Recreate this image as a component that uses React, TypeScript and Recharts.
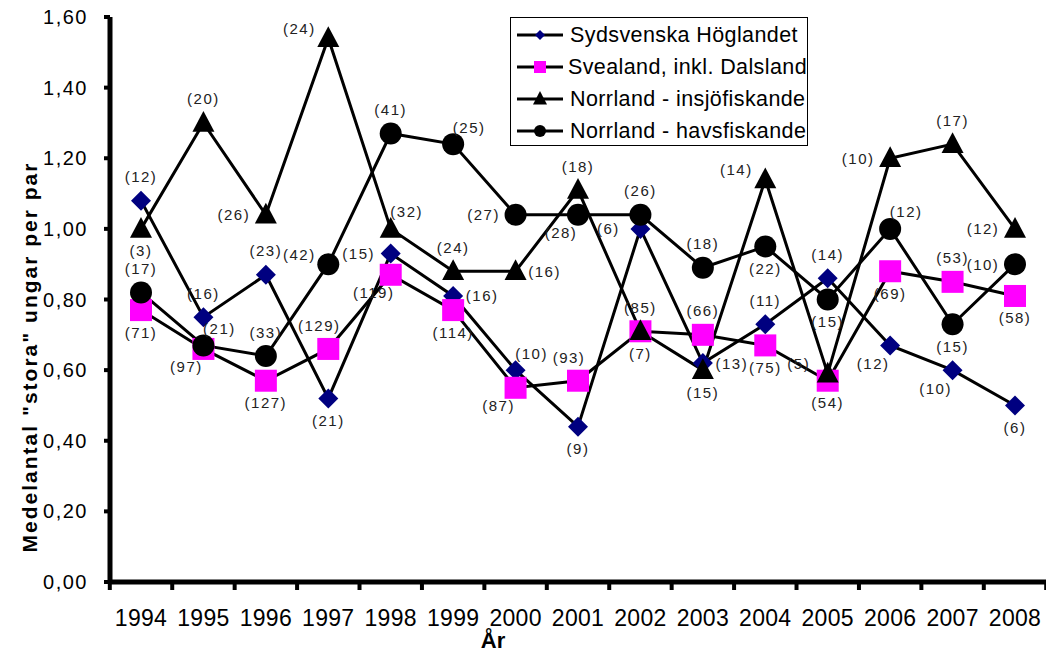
import { LineChart, Line, XAxis, YAxis, LabelList, Legend } from 'recharts';

const years = ['1994', '1995', '1996', '1997', '1998', '1999', '2000', '2001', '2002', '2003', '2004', '2005', '2006', '2007', '2008'];

const sydsvenska = [1.08, 0.75, 0.87, 0.52, 0.93, 0.81, 0.6, 0.44, 1.0, 0.62, 0.73, 0.86, 0.67, 0.6, 0.5];
const sydsvenskaN = [12, 16, 23, 21, 15, 16, 10, 9, 6, 13, 11, 14, 12, 10, 6];

const svealand = [0.77, 0.66, 0.57, 0.66, 0.87, 0.77, 0.55, 0.57, 0.71, 0.7, 0.67, 0.57, 0.88, 0.85, 0.81];
const svealandN = [71, 97, 127, 129, 119, 114, 87, 93, 85, 66, 75, 54, 69, 53, 58];

const insjo = [1.0, 1.3, 1.04, 1.54, 1.0, 0.88, 0.88, 1.11, 0.71, 0.6, 1.14, 0.59, 1.2, 1.24, 1.0];
const insjoN = [3, 20, 26, 24, 32, 24, 16, 18, 7, 15, 14, 5, 10, 17, 12];

const havs = [0.82, 0.67, 0.64, 0.9, 1.27, 1.24, 1.04, 1.04, 1.04, 0.89, 0.95, 0.8, 1.0, 0.73, 0.9];
const havsN = [17, 21, 33, 42, 41, 25, 27, 28, 26, 18, 22, 15, 12, 15, 10];

const yTicks = [0, 0.2, 0.4, 0.6, 0.8, 1.0, 1.2, 1.4, 1.6];

// where each (n) label sits relative to its point
const sydPlace = ['a', 'a', 'a', 'b', 'l', 'r', 'ar', 'b', 'l', 'r', 'a', 'a', 'bl', 'bl', 'b'];
const sveaPlace = ['b', 'bl', 'b', 'al', 'bl', 'b', 'bl', 'al', 'a', 'a', 'b', 'b', 'b', 'a', 'b'];
const insjoPlace = ['b', 'a', 'l', 'ul', 'ar', 'a', 'r', 'a', 'b', 'b', 'ul', 'ul', 'l', 'a', 'l'];
const havsPlace = ['a', 'ar', 'a', 'ul', 'a', 'ar', 'l', 'bl', 'a', 'a', 'b', 'b', 'ar', 'b', 'l'];

const offsets: Record<string, [number, number]> = {
  a: [0, -24],
  b: [0, 22],
  l: [-32, 0],
  r: [29, 0],
  ar: [16, -17],
  al: [-9, -23],
  ul: [-29, -10],
  bl: [-17, 18],
};

const data = years.map((year, i) => ({
  year,
  syd: sydsvenska[i],
  sydN: sydsvenskaN[i],
  svea: svealand[i],
  sveaN: svealandN[i],
  insjo: insjo[i],
  insjoN: insjoN[i],
  havs: havs[i],
  havsN: havsN[i],
}));

const FONT = '"Liberation Sans", Arial, sans-serif';

const Diamond = ({ cx, cy, r = 10 }: any) => (
  <polygon points={`${cx},${cy - r} ${cx + r},${cy} ${cx},${cy + r} ${cx - r},${cy}`} fill="#000080" />
);
const Square = ({ cx, cy, r = 11 }: any) => (
  <rect x={cx - r} y={cy - r} width={r * 2} height={r * 2} fill="#ff00ff" />
);
const Triangle = ({ cx, cy, r = 11 }: any) => (
  <polygon points={`${cx},${cy - r - 1} ${cx + r},${cy + r * 0.8} ${cx - r},${cy + r * 0.8}`} fill="#000" />
);
const Circle = ({ cx, cy, r = 11 }: any) => <circle cx={cx} cy={cy} r={r} fill="#000" />;

const dotOf = (Shape: any) => (props: any) => (
  <Shape key={`dot-${props.index}`} cx={props.cx} cy={props.cy} />
);

const labelOf = (place: string[]) => (props: any) => {
  const { x, y, value, index } = props;
  const [dx, dy] = offsets[place[index]] || [0, -24];
  return (
    <text
      x={x + dx}
      y={y + dy}
      textAnchor="middle"
      dominantBaseline="central"
      fontSize={15}
      letterSpacing={1.5}
      fill="#222"
      style={{ fontFamily: FONT }}
    >
      ({value})
    </text>
  );
};

const XTick = (props: any) => {
  const { x, y, payload } = props;
  const half = payload && payload.offset ? payload.offset : 31.2;
  const axisY = y - 28;
  return (
    <g>
      <line x1={x - half} x2={x - half} y1={axisY} y2={axisY + 8} stroke="#000" strokeWidth={4} />
      {payload.index === years.length - 1 && (
        <line x1={x + half} x2={x + half} y1={axisY} y2={axisY + 8} stroke="#000" strokeWidth={4} />
      )}
      <text x={x} y={y} dy="0.71em" textAnchor="middle" fontSize={23} letterSpacing={0.3} fill="#000" style={{ fontFamily: FONT }}>
        {payload.value}
      </text>
    </g>
  );
};

const legendItems = [
  { name: 'Sydsvenska Höglandet', Shape: Diamond, r: 5 },
  { name: 'Svealand, inkl. Dalsland', Shape: Square, r: 6 },
  { name: 'Norrland - insjöfiskande', Shape: Triangle, r: 7 },
  { name: 'Norrland - havsfiskande', Shape: Circle, r: 6 },
];

const renderLegend = () => (
  <div
    style={{
      border: '1px solid #000',
      background: '#fff',
      width: 298,
      height: 129,
      padding: '1px 0 0 5px',
      boxSizing: 'border-box',
      fontFamily: FONT,
    }}
  >
    {legendItems.map(({ name, Shape, r }) => (
      <div key={name} style={{ display: 'flex', alignItems: 'center', height: 32 }}>
        <svg width={52} height={24}>
          <line x1={1} x2={47} y1={12} y2={12} stroke="#000" strokeWidth={3} />
          <Shape cx={24} cy={12} r={r} />
        </svg>
        <span style={{ fontSize: 21.5, letterSpacing: 0.4, color: '#000', whiteSpace: 'nowrap', marginLeft: 2 }}>{name}</span>
      </div>
    ))}
  </div>
);

export default function App() {
  return (
    <div style={{ position: 'absolute', left: 0, top: 0, width: 1046, height: 650, background: '#fff', fontFamily: FONT }}>
      <LineChart width={1046} height={650} data={data} margin={{ top: 17, right: 0, left: 0, bottom: 8 }}>
        <XAxis
          dataKey="year"
          height={60}
          padding={{ left: 31, right: 31 }}
          axisLine={{ stroke: '#000', strokeWidth: 5 }}
          tickLine={false}
          tickSize={0}
          tickMargin={28}
          tick={<XTick />}
          interval={0}
          label={{
            content: () => (
              <text x={493} y={648} textAnchor="middle" fontSize={22} fontWeight="bold" fill="#000" style={{ fontFamily: FONT }}>
                År
              </text>
            ),
          }}
        />
        <YAxis
          width={110}
          domain={[0, 1.6]}
          ticks={yTicks}
          interval={0}
          axisLine={{ stroke: '#000', strokeWidth: 5 }}
          tickLine={{ stroke: '#000', strokeWidth: 4 }}
          tickSize={6}
          tickMargin={16}
          tick={{ fontSize: 20, fill: '#000', style: { fontFamily: FONT }, letterSpacing: 1.5 }}
          tickFormatter={(v: number) => v.toFixed(2).replace('.', ',')}
          label={{
            content: () => (
              <text
                x={29}
                y={357}
                transform="rotate(-90, 29, 357)"
                textAnchor="middle"
                dominantBaseline="central"
                fontSize={21}
                fontWeight="bold"
                letterSpacing={2}
                fill="#000"
                style={{ fontFamily: FONT }}
              >
                Medelantal "stora" ungar per par
              </text>
            ),
          }}
        />
        <Legend
          layout="vertical"
          align="center"
          verticalAlign="middle"
          content={renderLegend}
          wrapperStyle={{ left: 510, top: 17, width: 298, height: 129 }}
        />
        <Line
          dataKey="syd"
          name="Sydsvenska Höglandet"
          stroke="#000"
          strokeWidth={3}
          dot={dotOf(Diamond)}
          activeDot={false}
          isAnimationActive={false}
        >
          <LabelList dataKey="sydN" content={labelOf(sydPlace)} />
        </Line>
        <Line
          dataKey="svea"
          name="Svealand, inkl. Dalsland"
          stroke="#000"
          strokeWidth={3}
          dot={dotOf(Square)}
          activeDot={false}
          isAnimationActive={false}
        >
          <LabelList dataKey="sveaN" content={labelOf(sveaPlace)} />
        </Line>
        <Line
          dataKey="insjo"
          name="Norrland - insjöfiskande"
          stroke="#000"
          strokeWidth={3}
          dot={dotOf(Triangle)}
          activeDot={false}
          isAnimationActive={false}
        >
          <LabelList dataKey="insjoN" content={labelOf(insjoPlace)} />
        </Line>
        <Line
          dataKey="havs"
          name="Norrland - havsfiskande"
          stroke="#000"
          strokeWidth={3}
          dot={dotOf(Circle)}
          activeDot={false}
          isAnimationActive={false}
        >
          <LabelList dataKey="havsN" content={labelOf(havsPlace)} />
        </Line>
      </LineChart>
    </div>
  );
}
